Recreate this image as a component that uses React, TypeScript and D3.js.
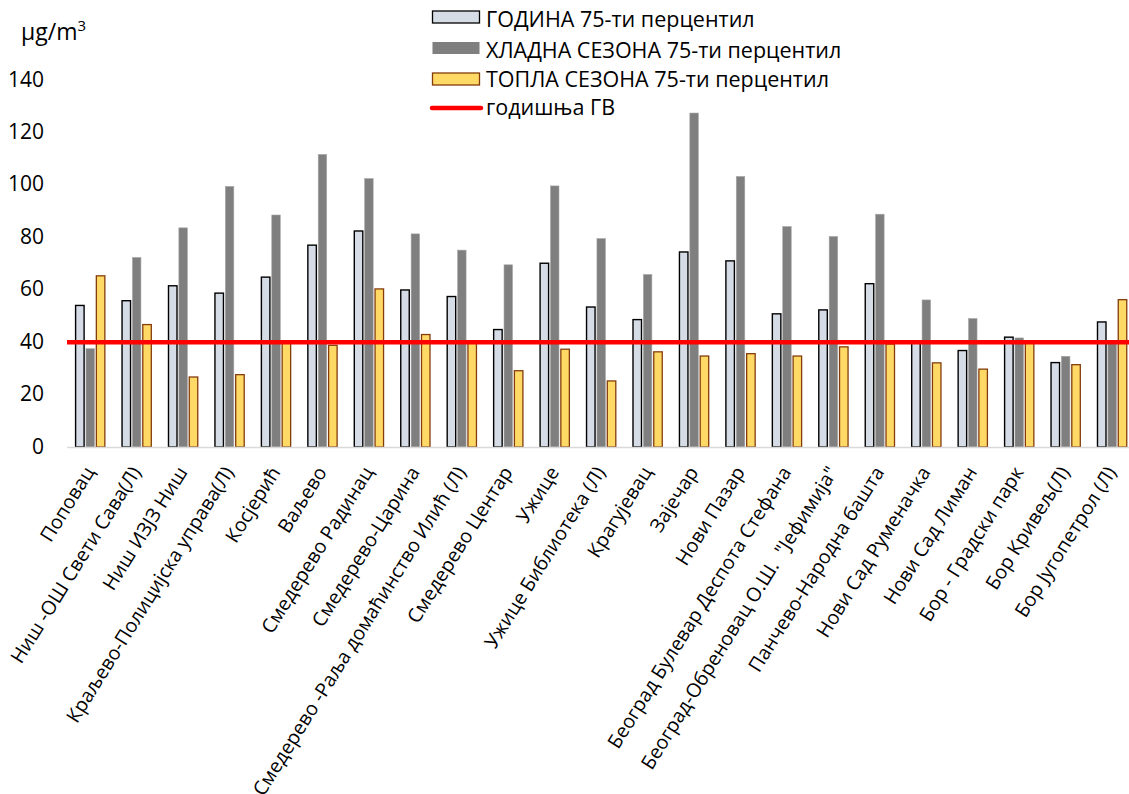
import * as React from 'react';
import * as d3 from 'd3';

const categories = [
    'Поповац',
    'Ниш -ОШ Свети Сава(Л)',
    'Ниш ИЗЈЗ Ниш',
    'Краљево-Полицијска управа(Л)',
    'Косјерић',
    'Ваљево',
    'Смедерево Радинац',
    'Смедерево-Царина',
    'Смедерево -Раља домаћинство Илић (Л)',
    'Смедерево Центар',
    'Ужице',
    'Ужице Библиотека (Л)',
    'Крагујевац',
    'Зајечар',
    'Нови Пазар',
    'Београд Булевар Деспота Стефана',
    'Београд-Обреновац О.Ш.  "Јефимија"',
    'Панчево-Народна башта',
    'Нови Сад Руменачка',
    'Нови Сад Лиман',
    'Бор - Градски парк',
    'Бор Кривељ(Л)',
    'Бор Југопетрол (Л)'
];

const seriesNames = [
    'ГОДИНА 75-ти перцентил',
    'ХЛАДНА СЕЗОНА 75-ти перцентил',
    'ТОПЛА СЕЗОНА 75-ти перцентил'
];
const limitName = 'годишња ГВ';

const godina = [54, 55.8, 61.5, 58.7, 64.8, 77, 82.4, 59.9, 57.4, 44.8, 70.1, 53.4, 48.6, 74.4, 71, 50.8, 52.3, 62.3, 40.5, 36.8, 41.9, 32.2, 47.7];
const hladna = [37.5, 72.3, 83.6, 99.4, 88.5, 111.6, 102.4, 81.3, 75.1, 69.5, 99.6, 79.5, 65.8, 127.4, 103.2, 84.1, 80.3, 88.8, 56.1, 49, 41.6, 34.6, 40];
const topla = [65.3, 46.7, 26.7, 27.6, 40, 38.8, 60.3, 42.9, 40, 29.1, 37.3, 25.2, 36.3, 34.7, 35.6, 34.7, 38.2, 39.3, 32.1, 29.7, 40, 31.4, 56.2];
const limitValue = [40];

const yTicks = [0, 20, 40, 60, 80, 100, 120, 140];

const WIDTH = 1129;
const HEIGHT = 794;
const FONT = '"Open Sans", "Noto Sans", sans-serif';

const fills = ['#D6DCE5', '#7F7F7F', '#FFD966'];
const strokes = ['#000000', '#A6A6A6', '#843C0C'];
const strokeWidths = [1.4, 0.6, 1.3];

export default function App() {
    const ref = React.useRef<SVGSVGElement>(null);

    React.useEffect(() => {
        const svg = d3.select(ref.current);
        svg.selectAll('*').remove();

        const left = 67, bottom = 447, top = 80;
        const step = 46.45;
        const right = left + step * categories.length;

        const x = d3.scaleBand<string>()
            .domain(categories)
            .range([left, right])
            .paddingInner(0.37)
            .paddingOuter(0.185);

        const inner = d3.scaleBand<number>()
            .domain([0, 1, 2])
            .range([0, x.bandwidth()])
            .paddingInner(0.18);

        const y = d3.scaleLinear().domain([0, 140]).range([bottom, top]);

        // y tick labels
        svg.append('g')
            .selectAll('text')
            .data(yTicks)
            .enter()
            .append('text')
            .attr('x', 44)
            .attr('y', (d) => y(d) - 1)
            .attr('dy', '0.36em')
            .attr('text-anchor', 'end')
            .style('font-family', FONT)
            .style('font-size', '21px')
            .attr('fill', '#000')
            .text((d) => d);

        // unit
        const unit = svg.append('text')
            .attr('x', 21)
            .attr('y', 40)
            .style('font-family', FONT)
            .style('font-size', '23px')
            .attr('fill', '#000');
        unit.append('tspan').text('μg/m');
        unit.append('tspan').attr('dy', -9).style('font-size', '15px').text('3');

        // bars
        const allSeries = [godina, hladna, topla];
        allSeries.forEach((values, s) => {
            svg.append('g')
                .selectAll('rect')
                .data(values)
                .enter()
                .append('rect')
                .attr('x', (d, i) => (x(categories[i]) as number) + (inner(s) as number))
                .attr('width', inner.bandwidth())
                .attr('y', (d) => y(d))
                .attr('height', (d) => bottom - y(d))
                .attr('fill', fills[s])
                .attr('stroke', strokes[s])
                .attr('stroke-width', strokeWidths[s]);
        });

        // baseline
        svg.append('line')
            .attr('x1', left)
            .attr('x2', right)
            .attr('y1', bottom + 0.5)
            .attr('y2', bottom + 0.5)
            .attr('stroke', '#D9D9D9')
            .attr('stroke-width', 1.5);

        // limit line
        svg.append('line')
            .attr('x1', left)
            .attr('x2', right)
            .attr('y1', y(limitValue[0]))
            .attr('y2', y(limitValue[0]))
            .attr('stroke', '#FF0000')
            .attr('stroke-width', 4.5);

        // x labels
        svg.append('g')
            .selectAll('text')
            .data(categories)
            .enter()
            .append('text')
            .attr('transform', (d) => 'translate(' + ((x(d) as number) + x.bandwidth() / 2 + 5) + ',' + 472 + ') rotate(-58)')
            .attr('text-anchor', 'end')
            .style('font-family', FONT)
            .style('font-size', '19.5px')
            .style('white-space', 'pre')
            .attr('fill', '#000')
            .text((d) => d);

        // legend
        const lg = svg.append('g').attr('transform', 'translate(432,0)');
        const boxY = [17, 48, 79, 108];
        const textY = [19, 50, 79.5, 107];
        seriesNames.forEach((name, s) => {
            lg.append('rect')
                .attr('x', 0.5)
                .attr('y', boxY[s] - 6)
                .attr('width', 47)
                .attr('height', 12)
                .attr('fill', fills[s])
                .attr('stroke', s === 1 ? 'none' : strokes[s])
                .attr('stroke-width', 1.3);
        });
        lg.append('line')
            .attr('x1', 0)
            .attr('x2', 49)
            .attr('y1', boxY[3])
            .attr('y2', boxY[3])
            .attr('stroke', '#FF0000')
            .attr('stroke-width', 4.5)
            .attr('stroke-linecap', 'round');
        [...seriesNames, limitName].forEach((name, s) => {
            lg.append('text')
                .attr('x', 54)
                .attr('y', textY[s])
                .attr('dy', '0.36em')
                .style('font-family', FONT)
                .style('font-size', '21.5px')
                .attr('fill', '#000')
                .text(name);
        });
    }, []);

    return (
        <svg
            ref={ref}
            width={WIDTH}
            height={HEIGHT}
            style={{ position: 'absolute', left: 0, top: 0, background: '#fff' }}
        ></svg>
    );
}
